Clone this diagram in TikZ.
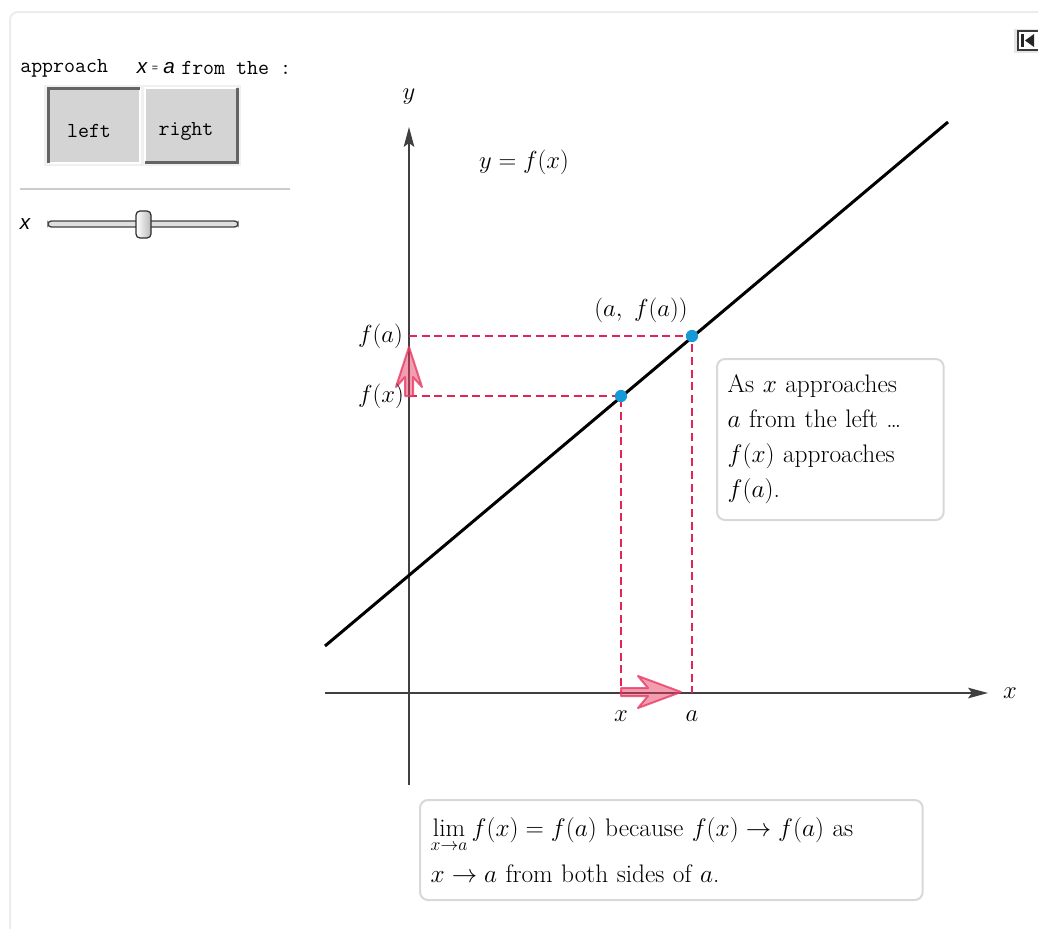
\RequirePackage{fix-cm}
\documentclass[tikz,border=0pt]{standalone}
\usepackage{fontspec}
\setsansfont{Liberation Sans}
\usetikzlibrary{arrows.meta}
\definecolor{dashred}{RGB}{226,36,88}
\definecolor{dotblue}{RGB}{20,155,215}
\definecolor{boxgray}{RGB}{216,216,216}
\definecolor{arrowpink}{RGB}{232,60,100}
\definecolor{btngray}{RGB}{212,212,212}
\definecolor{btndark}{RGB}{100,100,100}
\definecolor{panelgray}{RGB}{236,236,236}
\begin{document}
\begin{tikzpicture}[x=0.75pt,y=-0.75pt,
  lbl/.style={font=\fontsize{18.5}{22}\selectfont, inner sep=0pt},
  mono/.style={font=\ttfamily\fontsize{16}{19}\selectfont, inner sep=0pt},
  sfit/.style={font=\sffamily\itshape\fontsize{15.5}{18}\selectfont, inner sep=0pt},
  infobox/.style={draw=boxgray, line width=1.5pt, rounded corners=6pt, fill=white, align=left, inner xsep=8pt, inner ysep=4pt},
  dashline/.style={dashred, line width=1.1pt, dash pattern=on 6pt off 3.5pt},
  axisline/.style={draw=black!75, line width=0.9pt, -{Stealth[length=15pt,width=8pt,inset=3pt]}},
  pinkarrow/.style={fill=arrowpink, fill opacity=0.5, draw=arrowpink, draw opacity=0.8, line width=1.5pt, line join=round}]
\useasboundingbox (0,0) rectangle (1038,928);
\clip (0,0) rectangle (1038,928);

% panel border
\draw[panelgray, line width=1.5pt, rounded corners=6pt] (10,940) -- (10,12) -- (1050,12);

% reset icon
\fill[gray!20] (1014,29) rectangle (1042,53);
\draw[gray!45!black, line width=1.2pt, fill=white] (1018,31) rectangle (1040,50);
\fill[gray!30!black] (1021,34) rectangle (1024,47);
\fill[gray!30!black] (1025,40.5) -- (1034,34) -- (1034,47) -- cycle;

% controls
\node[mono, anchor=west] (appr) at (20,68) {approach};
\node[sfit] (xeq) at (142,68) {x};
\node[inner sep=0pt, font=\sffamily\fontsize{8}{10}\selectfont] (eqs) at (155,69) {=};
\node[sfit] (aeq) at (169,68) {a};
\node[mono, anchor=west] (from) at (181,68) {from the :};

\fill[gray!12] (44,85) rectangle (241,166);
\fill[btngray] (47,87) rectangle (140,163);
\draw[white, line width=1.5pt] (140,88) -- (140,163) -- (48,163);
\draw[btndark, line width=2.25pt] (48,163) -- (48,88) -- (140,88);
\fill[btngray] (145,87) rectangle (238,163);
\draw[white, line width=1.5pt] (145,163) -- (145,88) -- (237,88);
\draw[btndark, line width=2.25pt] (237,88) -- (237,162) -- (145,162);
\node[mono] (left) at (89,131) {left};
\node[mono] (right) at (186,131) {right};

\draw[gray!40, line width=1.2pt] (20,189) -- (290,189);

\node[sfit] (sx) at (25,224) {x};
\draw[gray!50!black, fill=gray!25, line width=1pt, rounded corners=2.5pt] (48,221) rectangle (238,227);
\shade[left color=white, right color=gray!55, rounded corners=3pt] (136,211) rectangle (151,238);
\draw[gray!35!black, line width=0.9pt, rounded corners=3pt] (136,211) rectangle (151,238);

% axes
\coordinate (ybot) at (409,785);
\coordinate (ytop) at (409,127);
\coordinate (xleft) at (325,693);
\coordinate (xright) at (988,693);
\draw[axisline] (ybot) -- (ytop);
\draw[axisline] (xleft) -- (xright);
\node[lbl] (ylab) at (409,97) {$y$};
\node[lbl] (xlab) at (1010,693) {$x$};

% points
\coordinate (P) at (692,336);
\coordinate (Q) at (621,396);
\coordinate (Pa) at (409,336);
\coordinate (Qa) at (409,396);
\coordinate (Pb) at (692,693);
\coordinate (Qb) at (621,693);

\draw[dashline] (Pa) -- (P) -- (Pb);
\draw[dashline] (Qa) -- (Q) -- (Qb);

% function
\coordinate (f0) at (325,646);
\coordinate (f1) at (948,122);
\draw[black, line width=2.25pt] (f0) -- (f1);

\fill[dotblue] (P) circle (4.6pt);
\fill[dotblue] (Q) circle (4.6pt);

% pink arrows
\draw[pinkarrow] (621,688) -- (648,688) -- (638,676) -- (681,692) -- (638,708) -- (648,696) -- (621,696) -- cycle;
\draw[pinkarrow] (405,396) -- (405,377) -- (396,387) -- (409,347) -- (422,387) -- (413,377) -- (413,396) -- cycle;

% labels
\node[lbl] (eq) at (524,162) {$y = f(x)$};
\node[lbl] (pa) at (641,310) {$(a,\ f(a))$};
\node[lbl, anchor=east] (fa) at (403,336) {$f(a)$};
\node[lbl, anchor=east] (fx) at (404,396) {$f(x)$};
\node[lbl] (xt) at (621,716) {$x$};
\node[lbl] (at) at (692,716) {$a$};

% boxes
\node[infobox, anchor=north west, text width=154pt, minimum height=120.75pt,
      font=\fontsize{19}{26.25}\selectfont] (info) at (716,358)
  {As $x$ approaches\\ $a$ from the left \dots\\ $f(x)$ approaches\\ $f(a)$.};
\node[infobox, anchor=north west, text width=361pt, minimum height=75pt,
      font=\fontsize{19}{35}\selectfont] (concl) at (419,799)
  {\smash{$\lim\limits_{\raisebox{-5pt}{$\scriptstyle x\to a$}}$}$\,f(x) = f(a)$ because $f(x)\to f(a)$ as\\ $x\to a$ from both sides of $a$.};
\end{tikzpicture}
\end{document}
